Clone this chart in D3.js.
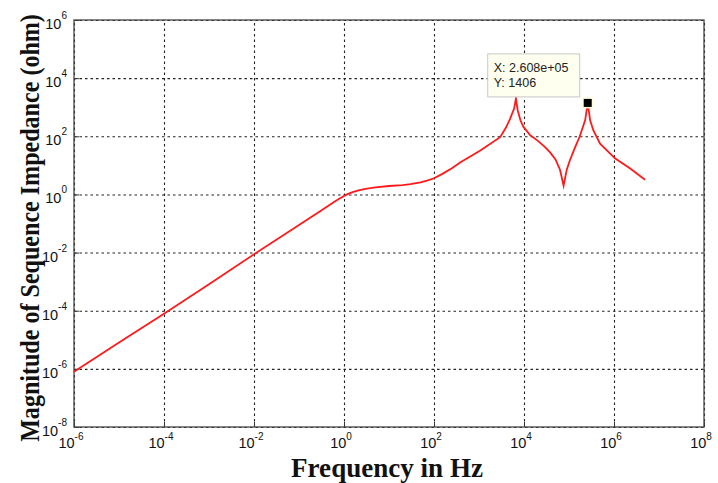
<!DOCTYPE html>
<html><head><meta charset="utf-8">
<script src="https://cdn.jsdelivr.net/npm/d3@7"></script>
<style>body{margin:0;background:#fff}</style>
</head><body><svg id="c" width="718" height="483"></svg>
<script>
// ---- data ----
const xTickExps = [-6, -4, -2, 0, 2, 4, 6, 8];
const yTickExps = [-8, -6, -4, -2, 0, 2, 4, 6];
const freqHz = [1e-6, 1e-5, 1e-4, 1e-3, 1e-2, 0.1, 0.3, 0.6, 0.8, 1, 1.2, 1.5, 2, 3, 5, 10, 20, 30, 50, 70, 100,
  150, 250, 380, 1050, 2950, 3980, 4900, 6030, 6610, 7240, 8320, 9660, 13500, 20000, 28200, 38000, 50100, 63100,
  75900, 89100, 104700, 134900, 173800, 229000, 260800, 295000, 346700, 489800, 1.05e6, 2.29e6, 4.9e6];
const impedanceOhm = [8e-7, 8e-6, 7.8e-5, 8.2e-4, 8.7e-3, 0.088, 0.27, 0.55, 0.72, 0.88, 1.02, 1.18, 1.36, 1.55, 1.75, 1.95, 2.1, 2.25, 2.6, 3.0, 3.6,
  5.0, 8.0, 12.6, 32, 93, 200, 400, 900, 2000, 790, 355, 214, 112, 71, 45, 28, 16, 7.1,
  2.0, 7.1, 15, 40, 100, 363, 1406, 355, 162, 56, 17.4, 7.8, 3.2];
const tipPoint = [2.608e5, 1406];
const tipLines = ["X: 2.608e+05", "Y: 1406"];
const xTitle = "Frequency in Hz";
const yTitle = "Magnitude of Sequence Impedance (ohm)";

// ---- layout ----
const W = 718, H = 483;
const m = {l: 74, t: 20, r: 14, b: 56};
const iw = W - m.l - m.r, ih = H - m.t - m.b;
const svg = d3.select("#c");
const g = svg.append("g").attr("transform", `translate(${m.l},${m.t})`);

const x = d3.scaleLog().domain([1e-6, 1e8]).range([0, iw]);
const y = d3.scaleLog().domain([1e-8, 1e6]).range([ih, 0]);
const xt = xTickExps.map(e => Math.pow(10, e));
const yt = yTickExps.map(e => Math.pow(10, e));

// grid
const gx = g.append("g").attr("transform", `translate(0,${ih})`)
  .call(d3.axisBottom(x).tickValues(xt).tickSize(-ih).tickFormat(""));
const gy = g.append("g")
  .call(d3.axisLeft(y).tickValues(yt).tickSize(-iw).tickFormat(""));
[gx, gy].forEach(a => {
  a.select(".domain").remove();
  a.selectAll("line").attr("stroke", "#222").attr("stroke-width", 1.1).attr("stroke-dasharray", "2.5,3");
});

// inner solid ticks
const tx = g.append("g").attr("transform", `translate(0,${ih})`)
  .call(d3.axisBottom(x).tickValues(xt).tickSize(-5).tickFormat(""));
const ty = g.append("g")
  .call(d3.axisLeft(y).tickValues(yt).tickSize(-5).tickFormat(""));
[tx, ty].forEach(a => { a.select(".domain").remove(); a.selectAll("line").attr("stroke", "#333"); });

// box
g.append("rect").attr("x", 0).attr("y", 0).attr("width", iw).attr("height", ih)
  .attr("fill", "none").attr("stroke", "#444").attr("stroke-width", 1.3);

// tick labels
const lf = "Liberation Sans, Arial, sans-serif";
xTickExps.forEach((e, i) => {
  const t = svg.append("text").attr("x", m.l + x(xt[i]) - 3).attr("y", m.t + ih + 21)
    .attr("font-family", lf).attr("font-size", 14.5).attr("fill", "#111").attr("text-anchor", "middle");
  t.append("tspan").text("10");
  t.append("tspan").attr("dy", -8).attr("font-size", 10).text(String(e));
});
yTickExps.forEach((e, i) => {
  const t = svg.append("text").attr("x", m.l - 7).attr("y", m.t + y(yt[i]) + 9)
    .attr("font-family", lf).attr("font-size", 14.5).attr("fill", "#111").attr("text-anchor", "end");
  t.append("tspan").text("10");
  t.append("tspan").attr("dy", -10).attr("font-size", 10).text(String(e));
});

// line
const pts = freqHz.map((f, i) => [f, impedanceOhm[i]]);
g.append("path").datum(pts)
  .attr("d", d3.line().x(d => x(d[0])).y(d => y(d[1])))
  .attr("fill", "none").attr("stroke", "#ff1a1a").attr("stroke-width", 1.8)
  .attr("stroke-linejoin", "miter").attr("stroke-miterlimit", 20);

// datatip
const px = x(tipPoint[0]), py = y(tipPoint[1]);
g.append("rect").attr("x", px - 5.5).attr("y", py - 5.5).attr("width", 11).attr("height", 11)
  .attr("fill", "#fffbd8");
g.append("rect").attr("x", px - 4).attr("y", py - 4).attr("width", 8).attr("height", 8)
  .attr("fill", "#000");
const bx = px - 100, by = py - 49;
g.append("rect").attr("x", bx).attr("y", by).attr("width", 92).attr("height", 43)
  .attr("fill", "#fffff0").attr("stroke", "#c8c8c8").attr("stroke-width", 1);
tipLines.forEach((s, i) => {
  g.append("text").attr("x", bx + 6).attr("y", by + 18 + i * 15)
    .attr("font-family", lf).attr("font-size", 12.5).attr("fill", "#222").text(s);
});

// axis titles (horizontally condensed to the reference width)
const sf = "Liberation Serif, 'DejaVu Serif', serif";
function title(txt, size, targetLen, pre) {
  const t = svg.append("text").attr("text-anchor", "middle")
    .attr("font-family", sf).attr("font-weight", "bold").attr("font-size", size).attr("fill", "#111").text(txt);
  const L = t.node().getComputedTextLength();
  t.attr("transform", `${pre} scale(${targetLen / L},1)`);
  return t;
}
title(xTitle, 27, 192, `translate(${m.l + iw / 2 - 2},477)`);
title(yTitle, 27, 428, `translate(39,228) rotate(-90)`);
</script></body></html>
